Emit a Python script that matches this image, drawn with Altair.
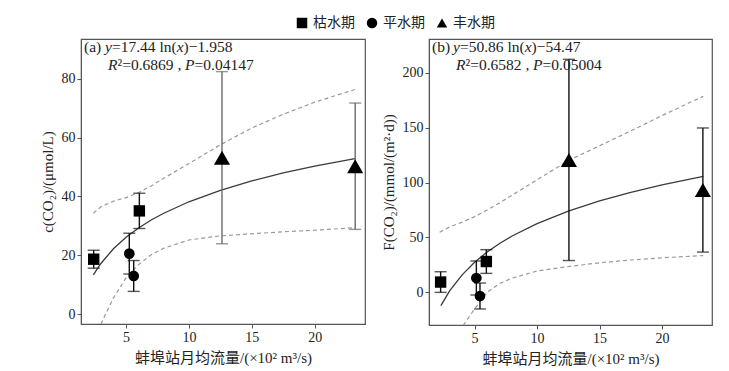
import altair as alt
import pandas as pd

SERIF = "Liberation Serif, Noto Sans CJK SC"
CJK = "Noto Sans CJK SC"

periods = ["枯水期", "枯水期", "平水期", "平水期", "丰水期", "丰水期"]
shape_domain = ["枯水期", "平水期", "丰水期"]
shape_range = ["square", "circle", "triangle-up"]

# panel (a): c(CO2)
flow_a = [2.43, 6.06, 5.26, 5.61, 12.63, 23.22]
conc = [18.65, 35.1, 20.55, 12.95, 53.2, 50.3]
conc_err = [3.05, 6.0, 6.95, 5.25, 29.3, 21.5]

fit_a_x = [2.4, 3, 4, 5, 6, 7, 8, 10, 12.5, 15, 17.5, 20, 23.2]
fit_a_y = [13.3, 17.2, 22.2, 26.1, 29.3, 32.0, 34.3, 38.2, 42.1, 45.3, 48.0, 50.3, 52.9]
up_a_x = [2.4, 3, 4, 5, 6, 7, 8, 10, 12.5, 15, 17.5, 20, 23.2]
up_a_y = [34.3, 36.5, 38.4, 39.6, 41.3, 43.6, 46.2, 51.2, 57.6, 63.3, 68.0, 72.1, 76.4]
lo_a_x = [3.0, 4, 5, 6, 7, 8, 10, 12.5, 15, 17.5, 20, 23.2]
lo_a_y = [-3.4, 5.5, 12.3, 16.8, 20.2, 22.4, 25.2, 26.6, 27.3, 28.0, 28.5, 29.4]

# panel (b): F(CO2)
flow_b = [2.28, 5.94, 5.14, 5.43, 12.55, 23.27]
flux = [9.4, 28.1, 13.1, -3.3, 120.6, 93.2]
flux_err = [9.4, 10.8, 15.5, 11.8, 91.6, 56.5]

fit_b_x = [2.3, 3, 4, 5, 6, 7, 8, 10, 12.5, 15, 17.5, 20, 23.3]
fit_b_y = [-12.1, 1.4, 16.0, 27.4, 36.7, 44.5, 51.3, 62.6, 74.0, 83.3, 91.1, 97.9, 105.7]
up_b_x = [2.2, 3, 4, 5, 6, 7, 8, 10, 12.5, 15, 17.5, 20, 23.3]
up_b_y = [54.8, 59.5, 64.0, 69.0, 75.0, 81.5, 88.5, 102.5, 120.0, 133.5, 147.0, 161.0, 178.5]
lo_b_x = [4.1, 5, 6, 7, 8, 10, 12.5, 15, 17.5, 20, 23.3]
lo_b_y = [-30.0, -15.0, 0.0, 8.0, 13.0, 19.5, 23.5, 27.0, 29.5, 31.5, 33.5]

x_title = "蚌埠站月均流量/(×10² m³/s)"
marker_sizes = {"枯水期": 130, "平水期": 115, "丰水期": 260}

# equation annotations: (text, italic) segments
eq_a_line1 = [("(a) ", False), ("y", True), ("=17.44 ln(", False), ("x", True), (")−1.958", False)]
eq_a_line2 = [("R", True), ("²=0.6869 , ", False), ("P", True), ("=0.04147", False)]
eq_b_line1 = [("(b) ", False), ("y", True), ("=50.86 ln(", False), ("x", True), (")−54.47", False)]
eq_b_line2 = [("R", True), ("²=0.6582 , ", False), ("P", True), ("=0.05004", False)]
line1_offsets = [3, 24.1, 31.0, 95.7, 102.6]
line2_offsets = [27, 36.5, 104.1, 113.6]


def curve_df(xs, ys):
    return pd.DataFrame({"x": xs, "y": ys})


def text_layers(segments, offsets, baseline_y):
    layers = []
    for (txt, italic), xo in zip(segments, offsets):
        layers.append(
            alt.Chart(pd.DataFrame({"t": [txt]})).mark_text(
                align="left", baseline="alphabetic", font=SERIF, fontSize=15.5, color="#222",
                fontStyle="italic" if italic else "normal"
            ).encode(text="t:N", x=alt.value(xo), y=alt.value(baseline_y))
        )
    return layers


def panel(xs, ys, errs, fit, up, lo, xdom, ydom, yticks, ytitle, line1, line2, gray_wet):
    pts = pd.DataFrame({
        "period": periods,
        "x": xs,
        "y": ys,
        "lo": [a - b for a, b in zip(ys, errs)],
        "hi": [a + b for a, b in zip(ys, errs)],
    })
    X = alt.X("x:Q", scale=alt.Scale(domain=xdom, nice=False, zero=False),
              axis=alt.Axis(values=[5, 10, 15, 20], title=x_title))
    Y = alt.Y("y:Q", scale=alt.Scale(domain=ydom, nice=False, zero=False),
              axis=alt.Axis(values=yticks, title=ytitle))
    base_pts = alt.Chart(pts)
    dashed = dict(color="#9a9a9a", strokeDash=[4, 3], strokeWidth=1.2, clip=True)
    upper = alt.Chart(curve_df(*up)).mark_line(**dashed).encode(x=X, y=Y)
    lower = alt.Chart(curve_df(*lo)).mark_line(**dashed).encode(x=X, y=Y)
    fitl = alt.Chart(curve_df(*fit)).mark_line(color="#3a3a3a", strokeWidth=1.3, clip=True).encode(x=X, y=Y)
    if gray_wet:
        bar_color = alt.condition(alt.datum.period == "丰水期", alt.value("#6a6a6a"), alt.value("#111111"))
    else:
        bar_color = alt.value("#111111")
    rule = base_pts.mark_rule(strokeWidth=1.4).encode(
        x="x:Q", y=alt.Y("lo:Q"), y2="hi:Q", color=bar_color)
    cap_lo = base_pts.mark_tick(orient="horizontal", size=12, thickness=1.4).encode(
        x="x:Q", y="lo:Q", color=bar_color)
    cap_hi = base_pts.mark_tick(orient="horizontal", size=12, thickness=1.4).encode(
        x="x:Q", y="hi:Q", color=bar_color)
    shape_enc = alt.Shape(
        "period:N",
        scale=alt.Scale(domain=shape_domain, range=shape_range),
        legend=alt.Legend(title=None, orient="none", direction="horizontal",
                          legendX=214, legendY=-23),
    )
    point_layers = []
    for p in shape_domain:
        point_layers.append(
            base_pts.transform_filter(alt.datum.period == p)
            .mark_point(filled=True, opacity=1, color="black", size=marker_sizes[p])
            .encode(x="x:Q", y="y:Q", shape=shape_enc)
        )
    texts = text_layers(line1, line1_offsets, 13) + text_layers(line2, line2_offsets, 31)
    return alt.layer(upper, lower, fitl, rule, cap_lo, cap_hi, *point_layers, *texts)


left = panel(flow_a, conc, conc_err, (fit_a_x, fit_a_y), (up_a_x, up_a_y), (lo_a_x, lo_a_y),
             [1.42, 24.0], [-3.4, 93.6], [0, 20, 40, 60, 80], "c(CO₂)/(μmol/L)",
             eq_a_line1, eq_a_line2, True).properties(width=284, height=285)
right = panel(flow_b, flux, flux_err, (fit_b_x, fit_b_y), (up_b_x, up_b_y), (lo_b_x, lo_b_y),
              [1.35, 24.0], [-29.7, 230.7], [0, 50, 100, 150, 200], "F(CO₂)/(mmol/(m²·d))",
              eq_b_line1, eq_b_line2, False).properties(width=283, height=286)

chart = alt.hconcat(left, right, spacing=14).resolve_scale(
    x="independent", y="independent", shape="shared"
).properties(
    padding={"left": 31, "top": 8, "right": 5, "bottom": 5}
).configure_view(
    stroke="#555555", strokeWidth=1.2
).configure_axis(
    labelFont=SERIF, labelFontSize=14, labelColor="#222", titleFont=SERIF, titleFontSize=15,
    titleColor="#222", titleFontWeight="normal", tickColor="#555", tickSize=4, domainColor="#555",
    grid=False, labelPadding=2, titlePadding=6
).configure_legend(
    labelFont=CJK, labelFontSize=14, labelColor="#222", symbolFillColor="black",
    symbolStrokeWidth=0, symbolSize=110, columnPadding=10, labelOffset=4, padding=0
)

chart.save("out.html", embed_options={"renderer": "svg", "actions": False})
